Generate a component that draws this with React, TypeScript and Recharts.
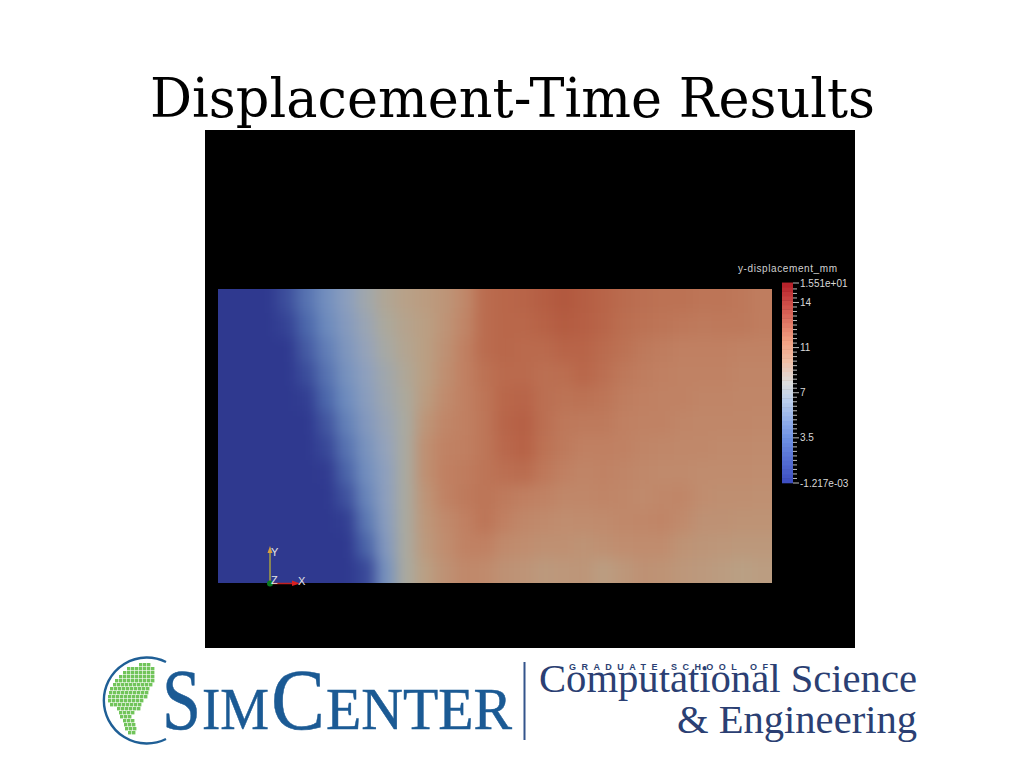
import React from "react";
import { ScatterChart, Scatter, XAxis, YAxis } from "recharts";

const row01 = [0,0,0,0.9,2.4,3.8,5.1,6.4,7.6,8.3,8.8,9.3,10.3,12.4,12.8,13,13.5,14,13.5,13,12.5,12.2,12,12,11.8,11.8,11.6,11.2];
const row02 = [0,0,0,0.4,1.9,3.4,4.8,6,7.2,8,8.6,9.4,10.6,12.4,12.8,12.8,13.2,13.7,13.4,12.9,12.3,12,11.8,11.6,11.4,11.5,11.5,11.2];
const row03 = [0,0,0,0,1.4,2.9,4.4,5.7,6.8,7.8,8.6,9.6,11,12.4,12.8,12.6,12.6,13,13,12.5,12,11.5,11.2,11,11,11,10.8,10.8];
const row04 = [0,0,0,0,0.8,2.4,4,5.3,6.4,7.5,8.6,9.8,11,12,12.6,12.6,12.2,12.3,12.8,12.2,11.6,11.2,11,10.8,10.8,10.8,10.6,10.6];
const row05 = [0,0,0,0,0.2,1.9,3.5,5,6.2,7.2,8.8,10.1,11,11.8,12.8,13,12.2,11.9,12,11.8,11.2,11,10.8,10.8,10.6,10.6,10.5,10.5];
const row06 = [0,0,0,0,0,1.2,3,4.6,5.9,7,9.3,10.5,11,11.7,12.9,13.3,12.2,11.6,11.4,11.4,11,10.8,10.8,10.5,10.4,10.4,10.4,10.3];
const row07 = [0,0,0,0,0,0.6,2.4,4.1,5.6,7,9.7,10.8,11.1,11.7,12.7,13.2,12,11.4,11,11,10.9,10.6,10.4,10.3,10.3,10.2,10.2,10.1];
const row08 = [0,0,0,0,0,0.1,1.8,3.7,5.3,7,9.7,11,11.3,11.8,12.2,12.4,11.6,11,10.6,10.8,10.6,10.3,10.2,10.2,10,10,10,9.9];
const row09 = [0,0,0,0,0,0,1,3.2,5.2,7,9.4,10.8,11.4,11.8,11.4,11.1,10.8,10.4,10.4,10.6,10.4,10.2,10.4,10.5,9.9,9.8,9.8,9.7];
const row10 = [0,0,0,0,0,0,0.2,2.6,5,7,9.2,10.2,11,11.8,11,10.4,10.2,9.9,10,10.1,10.3,10.4,10.6,10.2,9.6,9.6,9.5,9.5];
const row11 = [0,0,0,0,0,0,0,1.8,4.6,7,9,9.9,10.8,11,10.2,9.9,9.7,9.7,9.5,9.7,9.9,10,10,9.5,9.3,9.2,9.1,9.1];
const row12 = [0,0,0,0,0,0,0,0.6,4,7,8.6,9.6,10.3,10.2,9.6,9.4,9,9.2,9.3,8.7,9.2,9.6,9.5,9.2,9,8.8,8.5,8.7];
const fieldRows = [row01,row02,row03,row04,row05,row06,row07,row08,row09,row10,row11,row12];

// Colour bar
const barTicksMajor = [-0.001217, 3.5, 7, 10.5, 14, 15.51];
const barTickLabels = ["-1.217e-03", "3.5", "7", "11", "14", "1.551e+01"];
const barLevels = [0.17,0.52,0.86,1.21,1.55,1.9,2.24,2.59,2.93,3.28,3.62,3.97,4.31,4.66,5,5.35,5.69,6.04,6.38,6.73,7.07,7.42,7.76,8.11,8.45,8.8,9.14,9.49,9.83,10.18,10.52,10.87,11.21,11.56,11.9,12.25,12.59,12.94,13.28,13.63,13.97,14.32,14.66,15.01,15.35];
const barMinorTicks = [0.35,0.7,1.05,1.4,1.75,2.1,2.45,2.8,3.15,3.85,4.2,4.55,4.9,5.25,5.6,5.95,6.3,6.65,7.35,7.7,8.05,8.4,8.75,9.1,9.45,9.8,10.15,10.85,11.2,11.55,11.9,12.25,12.6,12.95,13.3,13.65,14.35,14.7,15.05];

// Colour ramps: [value, r, g, b]
const fieldRamp = [[0,47,57,143],[2,78,106,172],[3.5,110,140,190],[5.5,146,162,190],[7,170,170,160],[8.5,186,160,132],[10,192,140,110],[11,192,128,98],[12,188,114,84],[13,184,100,72],[14,178,88,62]];
const barRamp = [[0,60,76,192],[3.5,110,145,228],[6.5,190,210,238],[7.75,221,221,221],[9.5,240,190,165],[11,242,160,130],[14,205,75,70],[15.51,180,30,40]];

// Logo globe: [row y, from x, to x]
const globeRows = [[663,139,150],[667,127,153],[671,123,155],[675,119,153],[679,115,152],[683,113,151],[687,110,149],[691,109,148],[695,108,146],[699,108,144],[703,110,142],[707,117,140],[711,119,135],[715,120,132],[719,123,132],[723,124,133],[727,125,135],[731,128,133]];

function ramp(stops: number[][], v: number) {
  if (v <= stops[0][0]) return `rgb(${stops[0][1]},${stops[0][2]},${stops[0][3]})`;
  for (let i = 1; i < stops.length; i++) {
    if (v <= stops[i][0]) {
      const a = stops[i - 1], b = stops[i];
      const t = (v - a[0]) / (b[0] - a[0]);
      return `rgb(${Math.round(a[1] + (b[1] - a[1]) * t)},${Math.round(a[2] + (b[2] - a[2]) * t)},${Math.round(a[3] + (b[3] - a[3]) * t)})`;
    }
  }
  const l = stops[stops.length - 1];
  return `rgb(${l[1]},${l[2]},${l[3]})`;
}

const fieldCells = fieldRows.flatMap((row, r) => row.map((value, c) => ({ col: c + 0.5, row: r + 0.5, value, c, r })));
const barCells = barLevels.map((value) => ({ x: 0.5, value }));

const COLS = row01.length, ROWS = fieldRows.length;
const FX = 218, FY = 289, FW = 554, FH = 294;

function FieldCell(props: any) {
  const { cx, cy, payload } = props;
  const w = FW / COLS, h = FH / ROWS;
  let x0 = cx - w / 2 - 0.5, x1 = cx + w / 2 + 0.5, y0 = cy - h / 2 - 0.5, y1 = cy + h / 2 + 0.5;
  if (payload.c === 0) x0 -= 30;
  if (payload.c === COLS - 1) x1 += 30;
  if (payload.r === 0) y0 -= 30;
  if (payload.r === ROWS - 1) y1 += 30;
  return <rect x={x0} y={y0} width={x1 - x0} height={y1 - y0} fill={ramp(fieldRamp, payload.value)} />;
}

function BarCell(props: any) {
  const { cx, cy, payload } = props;
  return <rect x={cx - 5.5} y={cy - 2.5} width={11} height={5} fill={ramp(barRamp, payload.value)} />;
}

function BarTick(props: any) {
  const { x, y, payload } = props;
  const idx = barTicksMajor.indexOf(payload.value);
  const major = idx >= 0;
  return (
    <g>
      <line x1={x} x2={x + (major ? 6 : 4)} y1={y} y2={y} stroke="#bdbdbd" strokeWidth={1} />
      {major && (
        <text x={x + 7} y={y + 3.5} fontFamily="'Liberation Sans', Arial, sans-serif" fontSize={10} fill="#d8d8d8">
          {barTickLabels[idx]}
        </text>
      )}
    </g>
  );
}

const layer: React.CSSProperties = { position: "absolute", left: 0, top: 0 };
const serif = "'Liberation Serif', serif";

export default function App() {
  return (
    <div style={{ position: "absolute", left: 0, top: 0, width: 1024, height: 768, background: "#fff", overflow: "hidden" }}>
      <style>{`.field-chart .recharts-scatter{filter:url(#fieldBlur);clip-path:url(#fieldClip);}`}</style>
      <svg width={0} height={0} style={{ position: "absolute" }}>
        <defs>
          <filter id="fieldBlur" filterUnits="userSpaceOnUse" x={0} y={0} width={1024} height={768} colorInterpolationFilters="sRGB">
            <feGaussianBlur stdDeviation={7} />
          </filter>
          <clipPath id="fieldClip" clipPathUnits="userSpaceOnUse">
            <rect x={FX} y={FY} width={FW} height={FH} />
          </clipPath>
        </defs>
      </svg>
      <div style={{ position: "absolute", left: 205, top: 130, width: 650, height: 518, background: "#000" }} />
      <div className="field-chart" style={layer}>
        <ScatterChart width={1024} height={768} margin={{ left: FX, right: 1024 - FX - FW, top: FY, bottom: 768 - FY - FH }}>
          <XAxis type="number" dataKey="col" domain={[0, COLS]} hide />
          <YAxis type="number" dataKey="row" domain={[0, ROWS]} reversed hide />
          <Scatter data={fieldCells} shape={FieldCell} isAnimationActive={false} />
        </ScatterChart>
      </div>
      <div style={layer}>
        <ScatterChart width={1024} height={768} margin={{ left: 782, right: 171, top: 283, bottom: 285 }}>
          <XAxis type="number" dataKey="x" domain={[0, 1]} hide />
          <YAxis
            type="number"
            dataKey="value"
            orientation="right"
            width={60}
            domain={[-0.001217, 15.51]}
            ticks={[...barMinorTicks, ...barTicksMajor]}
            interval={0}
            axisLine={false}
            tickLine={false}
            tickSize={0}
            tickMargin={0}
            tick={BarTick}
          />
          <Scatter data={barCells} shape={BarCell} isAnimationActive={false} />
        </ScatterChart>
      </div>
      <svg width={1024} height={768} style={layer}>
        <text x={150} y={117} fontFamily="'DejaVu Serif', serif" fontSize={54} fill="#000" textLength={725} lengthAdjust="spacingAndGlyphs">
          Displacement-Time Results
        </text>
        <text x={738} y={272} fontFamily="'Liberation Sans', Arial, sans-serif" fontSize={10} fill="#d0d0d0" textLength={99}>
          y-displacement_mm
        </text>

        {/* orientation axes */}
        <line x1={270} y1={583} x2={270} y2={552} stroke="#a8a040" strokeWidth={1.5} />
        <path d="M267.5 553 L270 546 L272.5 553 Z" fill="#d8a040" />
        <line x1={270} y1={583.5} x2={296} y2={583.5} stroke="#c02020" strokeWidth={1.5} />
        <path d="M292 580.5 L300 583.5 L292 586 Z" fill="#d82020" />
        <circle cx={270} cy={583.5} r={3} fill="#0a7a20" />
        <g fontFamily="'Liberation Sans', Arial, sans-serif" fontSize={11} fill="#e4e4e4">
          <text x={271} y={556}>Y</text>
          <text x={271} y={584}>Z</text>
          <text x={298} y={585}>X</text>
        </g>

        {/* SimCenter logo */}
        <path d="M166 662 A43 43 0 1 0 166 739" fill="none" stroke="#1f5f96" strokeWidth={2.4} />
        {globeRows.flatMap(([y, a, b]) => {
          const cells = [];
          for (let x = a; x < b; x += 4) cells.push(<rect key={`${y}-${x}`} x={x} y={y} width={3.4} height={3.4} fill="#71c45a" />);
          return cells;
        })}
        <g fontFamily={serif} fill="#1b5a94" stroke="#1b5a94" strokeWidth={0.5}>
          <text x={162} y={729} fontSize={86} textLength={39} lengthAdjust="spacingAndGlyphs">S</text>
          <text x={202} y={729} fontSize={60} textLength={67} lengthAdjust="spacingAndGlyphs">IM</text>
          <text x={271} y={729} fontSize={86} textLength={54} lengthAdjust="spacingAndGlyphs">C</text>
          <text x={326} y={729} fontSize={60} textLength={186} lengthAdjust="spacingAndGlyphs">ENTER</text>
        </g>
        <rect x={523.5} y={662} width={2} height={78} fill="#34558c" />

        {/* Graduate school logo */}
        <g fontFamily={serif} fill="#2b3f73">
          <text x={539} y={692} fontSize={40} textLength={378} lengthAdjust="spacingAndGlyphs">Computational Science</text>
          <text x={677} y={733} fontSize={40} textLength={240} lengthAdjust="spacingAndGlyphs">&amp; Engineering</text>
        </g>
        <text x={569} y={669.5} fontFamily="'Liberation Sans', Arial, sans-serif" fontWeight="bold" fontSize={9} fill="#2b3f73" stroke="#fff" strokeWidth={1} paintOrder="stroke" textLength={199}>
          GRADUATE SCHOOL OF
        </text>
      </svg>
    </div>
  );
}
